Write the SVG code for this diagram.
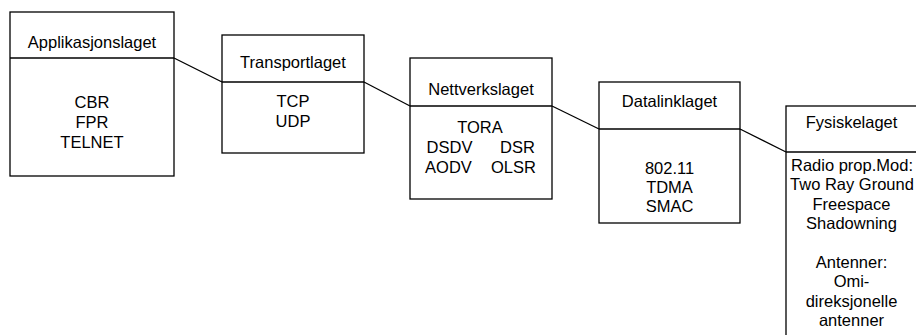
<svg xmlns="http://www.w3.org/2000/svg" width="916" height="335" viewBox="0 0 916 335">
<style>
.box{fill:#fff;stroke:#000;stroke-width:1.3}
.ln{fill:none;stroke:#000;stroke-width:1.3}
text{font-family:"Liberation Sans",Arial,sans-serif;font-size:16.5px;fill:#000;text-anchor:middle}
</style>
<rect width="916" height="335" fill="#fff"/>
<g id="connectors">
<line class="ln" x1="174" y1="58" x2="222" y2="82"/>
<line class="ln" x1="364" y1="82" x2="410" y2="106"/>
<line class="ln" x1="552" y1="106" x2="599" y2="129"/>
<line class="ln" x1="740" y1="129" x2="786" y2="152"/>
</g>
<g id="applikasjonslaget">
<rect class="box" x="10" y="12" width="164" height="164"/>
<line class="ln" x1="10" y1="58" x2="174" y2="58"/>
<text x="92" y="48">Applikasjonslaget</text>
<text x="92" y="108">CBR</text>
<text x="92" y="128">FPR</text>
<text x="92" y="147.5">TELNET</text>
</g>
<g id="transportlaget">
<rect class="box" x="222" y="35" width="142" height="118"/>
<line class="ln" x1="222" y1="82" x2="364" y2="82"/>
<text x="293" y="68">Transportlaget</text>
<text x="293" y="107">TCP</text>
<text x="293" y="127">UDP</text>
</g>
<g id="nettverkslaget">
<rect class="box" x="410" y="58" width="142" height="141"/>
<line class="ln" x1="410" y1="106" x2="552" y2="106"/>
<text x="481" y="95">Nettverkslaget</text>
<text x="480" y="133">TORA</text>
<text x="449.5" y="153">DSDV</text>
<text x="517.5" y="153">DSR</text>
<text x="448.5" y="173">AODV</text>
<text x="513.5" y="173">OLSR</text>
</g>
<g id="datalinklaget">
<rect class="box" x="599" y="82" width="141" height="141"/>
<line class="ln" x1="599" y1="129" x2="740" y2="129"/>
<text x="669.5" y="107">Datalinklaget</text>
<text x="669.5" y="174">802.11</text>
<text x="669.5" y="193">TDMA</text>
<text x="669.5" y="212">SMAC</text>
</g>
<g id="fysiskelaget">
<rect class="box" x="786" y="106" width="140" height="240"/>
<line class="ln" x1="786" y1="152" x2="926" y2="152"/>
<text x="851.5" y="128">Fysiskelaget</text>
<text x="852" y="171">Radio prop.Mod:</text>
<text x="852" y="190">Two Ray Ground</text>
<text x="851.5" y="209.5">Freespace</text>
<text x="851.5" y="229">Shadowning</text>
<text x="851.5" y="268">Antenner:</text>
<text x="851.5" y="287">Omi-</text>
<text x="851.5" y="306.5">direksjonelle</text>
<text x="851.5" y="326">antenner</text>
</g>
</svg>
